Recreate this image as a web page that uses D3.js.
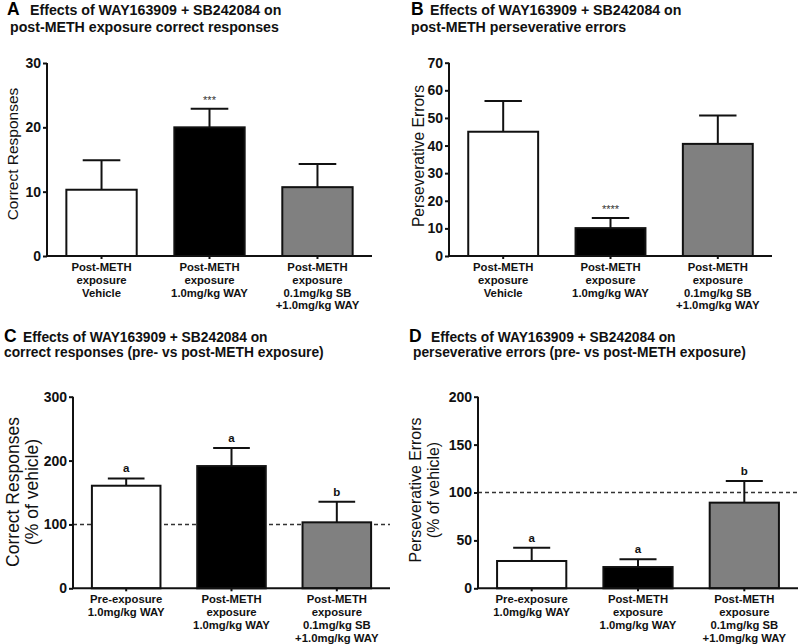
<!DOCTYPE html>
<html>
<head>
<meta charset="utf-8">
<script src="https://cdn.jsdelivr.net/npm/d3@7"></script>
<style>
  html, body { margin: 0; padding: 0; background: #fff; }
  svg { display: block; font-family: Arial, "Liberation Sans", Helvetica, sans-serif; }
</style>
</head>
<body>
<svg id="chart" width="800" height="644"></svg>
<script>
// ---------- DATA ----------
const categoriesAB = [
  ["Post-METH", "exposure", "Vehicle"],
  ["Post-METH", "exposure", "1.0mg/kg WAY"],
  ["Post-METH", "exposure", "0.1mg/kg SB", "+1.0mg/kg WAY"]
];
const categoriesCD = [
  ["Pre-exposure", "1.0mg/kg WAY"],
  ["Post-METH", "exposure", "1.0mg/kg WAY"],
  ["Post-METH", "exposure", "0.1mg/kg SB", "+1.0mg/kg WAY"]
];
const barColors = ["#ffffff", "#000000", "#808080"];

const meanA = [10.3, 20.0, 10.7];
const semA  = [4.6, 2.9, 3.6];
const meanB = [45.0, 10.1, 40.6];
const semB  = [11.1, 3.7, 10.3];
const meanC = [160.6, 191.4, 103.3];
const semC  = [11.4, 28.2, 32.2];
const meanD = [28.5, 22.2, 89.4];
const semD  = [13.9, 8.0, 22.6];

const sigA = ["", "***", ""];
const sigB = ["", "****", ""];
const sigC = ["a", "a", "b"];
const sigD = ["a", "a", "b"];

const ticksA = [0, 10, 20, 30];
const ticksB = [0, 10, 20, 30, 40, 50, 60, 70];
const ticksC = [0, 100, 200, 300];
const ticksD = [0, 50, 100, 150, 200];

const titleA = ["Effects of WAY163909 + SB242084 on", "post-METH exposure correct responses"];
const titleB = ["Effects of WAY163909 + SB242084 on", "post-METH perseverative errors"];
const titleC = ["Effects of WAY163909 + SB242084 on", "correct responses (pre- vs post-METH exposure)"];
const titleD = ["Effects of WAY163909 + SB242084 on", "perseverative errors (pre- vs post-METH exposure)"];

const ylabA = ["Correct Responses"];
const ylabB = ["Perseverative Errors"];
const ylabC = ["Correct Responses", "(% of vehicle)"];
const ylabD = ["Perseverative Errors", "(% of vehicle)"];

const refLineC = 100;
const refLineD = 100;

// ---------- LAYOUT ----------
const panels = [
  { letter: "A", title: titleA, cats: categoriesAB, mean: meanA, sem: semA, sig: sigA, ticks: ticksA, ylab: ylabA, ref: null,
    x0: 47, x1: 372, yTop: 63, yBot: 256, letterX: 7, titleX1: 30, titleX2: 10, titleY1: 15, titleY2: 31.5, titleFs: 14.2,
    ylabX: [12], ylabY: 154, ylabFs: 15.5 },
  { letter: "B", title: titleB, cats: categoriesAB, mean: meanB, sem: semB, sig: sigB, ticks: ticksB, ylab: ylabB, ref: null,
    x0: 449, x1: 772, yTop: 62.7, yBot: 256, letterX: 411, titleX1: 430, titleX2: 411, titleY1: 15, titleY2: 31.5, titleFs: 14.2,
    ylabX: [418], ylabY: 156, ylabFs: 15.6 },
  { letter: "C", title: titleC, cats: categoriesCD, mean: meanC, sem: semC, sig: sigC, ticks: ticksC, ylab: ylabC, ref: refLineC,
    x0: 73, x1: 390, yTop: 396.7, yBot: 588.3, letterX: 4, titleX1: 23, titleX2: 4, titleY1: 342.3, titleY2: 357.2, titleFs: 13.8,
    ylabX: [12.7, 31.5], ylabY: 492, ylabFs: 17.5 },
  { letter: "D", title: titleD, cats: categoriesCD, mean: meanD, sem: semD, sig: sigD, ticks: ticksD, ylab: ylabD, ref: refLineD,
    x0: 478, x1: 798, yTop: 396.7, yBot: 588.3, letterX: 409, titleX1: 431, titleX2: 413, titleY1: 342.3, titleY2: 357.2, titleFs: 13.8,
    ylabX: [415, 433], ylabY: 490, ylabFs: 15.9 }
];

const svg = d3.select("#chart");

panels.forEach(p => {
  const g = svg.append("g");
  const yMax = p.ticks[p.ticks.length - 1];
  const y = d3.scaleLinear().domain([0, yMax]).range([p.yBot, p.yTop]);
  const x = d3.scaleBand().domain(d3.range(p.cats.length)).range([p.x0, p.x1])
    .paddingInner(0.33).paddingOuter(0.17);
  const bw = x.bandwidth();

  // title
  g.append("text").attr("x", p.letterX).attr("y", p.titleY1)
    .attr("font-size", 17.5).attr("font-weight", "bold").attr("fill", "#000").text(p.letter);
  g.append("text").attr("x", p.titleX1).attr("y", p.titleY1)
    .attr("font-size", p.titleFs).attr("font-weight", "bold").attr("fill", "#111").text(p.title[0]);
  g.append("text").attr("x", p.titleX2).attr("y", p.titleY2)
    .attr("font-size", p.titleFs).attr("font-weight", "bold").attr("fill", "#111").text(p.title[1]);

  // y label
  p.ylab.forEach((t, i) => {
    const cx = p.ylabX[i];
    g.append("text")
      .attr("transform", `translate(${cx + 0.36 * p.ylabFs},${p.ylabY}) rotate(-90)`)
      .attr("text-anchor", "middle").attr("font-size", p.ylabFs).attr("fill", "#111").text(t);
  });

  // reference dashed line (behind the bars)
  if (p.ref !== null) {
    g.append("line").attr("x1", p.x0).attr("x2", p.x1)
      .attr("y1", y(p.ref)).attr("y2", y(p.ref))
      .attr("stroke", "#333").attr("stroke-width", 1.6).attr("stroke-dasharray", "4,3");
  }

  // error bars (drawn behind bars so only upper part shows)
  const eg = g.append("g");
  p.mean.forEach((m, i) => {
    const cx = x(i) + bw / 2;
    eg.append("line").attr("x1", cx).attr("x2", cx).attr("y1", y(m)).attr("y2", y(m + p.sem[i]))
      .attr("stroke", "#111").attr("stroke-width", 2);
    eg.append("line").attr("x1", cx - bw * 0.26).attr("x2", cx + bw * 0.26)
      .attr("y1", y(m + p.sem[i])).attr("y2", y(m + p.sem[i]))
      .attr("stroke", "#111").attr("stroke-width", 2);
  });

  // bars
  g.append("g").selectAll("rect").data(p.mean).join("rect")
    .attr("x", (d, i) => x(i) + 1)
    .attr("width", bw - 2)
    .attr("y", d => y(d))
    .attr("height", d => p.yBot - y(d))
    .attr("fill", (d, i) => barColors[i])
    .attr("stroke", "#111").attr("stroke-width", 2);

  // significance labels
  p.sig.forEach((s, i) => {
    if (!s) return;
    const cx = x(i) + bw / 2;
    const top = y(p.mean[i] + p.sem[i]);
    const isStar = s.indexOf("*") >= 0;
    g.append("text").attr("x", cx).attr("y", isStar ? top - 5 : top - 6)
      .attr("text-anchor", "middle")
      .attr("font-size", isStar ? 11 : 11.5)
      .attr("font-weight", isStar ? "normal" : "bold")
      .attr("fill", isStar ? "#333" : "#111").text(s);
  });

  // y axis
  const yAxis = g.append("g").attr("transform", `translate(${p.x0},0)`)
    .call(d3.axisLeft(y).tickValues(p.ticks).tickSize(4).tickSizeOuter(0).tickPadding(2));
  yAxis.selectAll("path, line").attr("stroke", "#111").attr("stroke-width", 2);
  yAxis.select("path").attr("d", `M0,${p.yBot}V${p.yTop}`);
  yAxis.selectAll("text").attr("font-size", 14).attr("font-weight", "bold")
    .attr("fill", "#111").attr("font-family", "Arial, 'Liberation Sans', sans-serif");

  // x axis
  const xAxis = g.append("g").attr("transform", `translate(0,${p.yBot})`)
    .call(d3.axisBottom(x).tickSize(3).tickSizeOuter(0).tickFormat(""));
  xAxis.selectAll("path, line").attr("stroke", "#111").attr("stroke-width", 2);
  xAxis.select("path").attr("d", `M${p.x0 - 1},0H${p.x1}`);

  // x category labels
  p.cats.forEach((lines, i) => {
    const cx = x(i) + bw / 2;
    const t = g.append("text").attr("text-anchor", "middle")
      .attr("font-size", 11.3).attr("font-weight", "bold").attr("fill", "#111");
    lines.forEach((ln, j) => {
      t.append("tspan").attr("x", cx).attr("y", p.yBot + 15 + j * 12.8).text(ln);
    });
  });
});
</script>
</body>
</html>
